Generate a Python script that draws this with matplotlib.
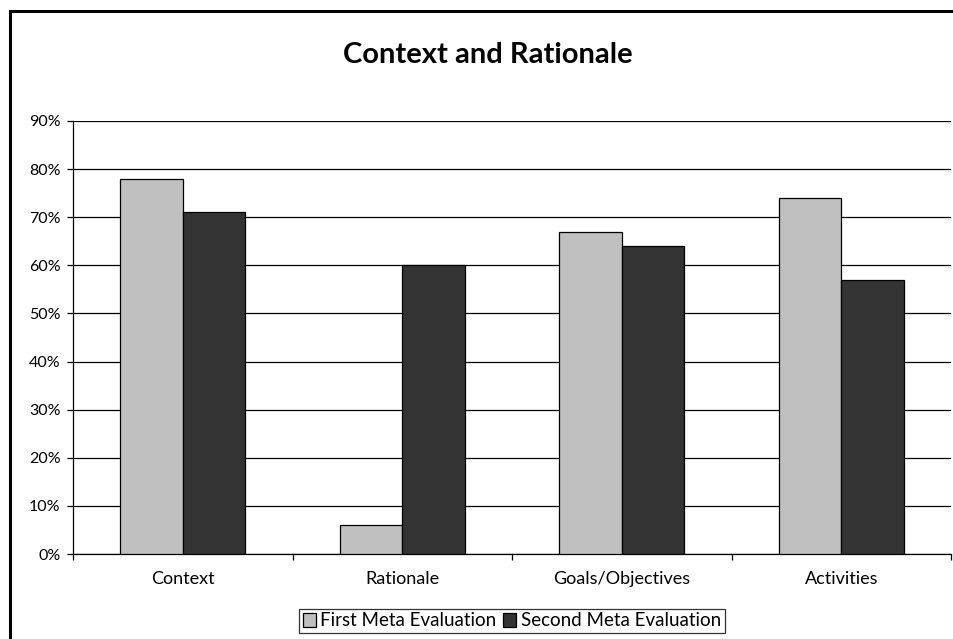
import numpy as np
import matplotlib
matplotlib.use('Agg')
import matplotlib.pyplot as plt
from matplotlib.patches import Rectangle
from matplotlib.ticker import FuncFormatter, FixedLocator

plt.rcParams['font.family'] = ['Lato', 'DejaVu Sans']

# Données
categories = ['Context', 'Rationale', 'Goals/Objectives', 'Activities']
first_meta = [0.78, 0.06, 0.67, 0.74]
second_meta = [0.71, 0.60, 0.64, 0.57]
series_names = ['First Meta Evaluation', 'Second Meta Evaluation']

W, H = 954, 639
fig = plt.figure(figsize=(W / 100, H / 100), dpi=100)

# Cadre extérieur (coupé à droite et en bas)
fig.patches.append(Rectangle((10 / W, -0.05), 1.2, (639 - 11) / H + 0.05,
                             transform=fig.transFigure, fill=False,
                             edgecolor='black', linewidth=2.2, zorder=0))

ax = fig.add_axes([73 / W, (H - 554) / H, (951 - 73) / W, (554 - 121) / H])

x = np.arange(len(categories))
bw = 1 / 3.5  # gap width 150%
ax.bar(x - bw / 2, first_meta, bw, color='#c0c0c0', edgecolor='black',
       linewidth=0.9, label=series_names[0], zorder=3)
ax.bar(x + bw / 2, second_meta, bw, color='#333333', edgecolor='black',
       linewidth=0.9, label=series_names[1], zorder=3)

ax.set_xlim(-0.5, len(categories) - 0.5)
ax.set_ylim(0, 0.9)
ax.set_yticks(np.arange(0, 0.91, 0.1))
ax.yaxis.set_major_formatter(FuncFormatter(lambda v, p: '{:.0f}%'.format(v * 100)))
ax.yaxis.grid(True, color='black', linewidth=0.9, zorder=0)
ax.set_axisbelow(True)

# Ticks aux limites des groupes, labels centrés
ax.xaxis.set_major_locator(FixedLocator(np.arange(-0.5, len(categories), 1.0)))
ax.xaxis.set_major_formatter(FuncFormatter(lambda v, p: ''))
ax.xaxis.set_minor_locator(FixedLocator(x))
ax.set_xticklabels(categories, minor=True)
ax.tick_params(axis='x', which='minor', length=0, pad=12, labelsize=13)
ax.tick_params(axis='x', which='major', length=4, width=0.9, direction='out')
ax.tick_params(axis='y', length=4, width=0.9, pad=5, labelsize=11.5)

for side in ['top', 'right']:
    ax.spines[side].set_visible(False)
ax.spines['left'].set_linewidth(0.9)
ax.spines['bottom'].set_linewidth(0.9)

fig.text(488 / W, 1 - 55 / H, 'Context and Rationale', ha='center',
         va='center', fontsize=21, fontweight='bold')

leg = ax.legend(loc='center', bbox_to_anchor=(512 / W, 1 - 621 / H),
                bbox_transform=fig.transFigure, ncol=2, fontsize=13.5,
                frameon=True, fancybox=False, edgecolor='black',
                handlelength=0.7, handleheight=0.7, handletextpad=0.25,
                columnspacing=0.35, borderpad=0.2, borderaxespad=0)
leg.get_frame().set_linewidth(0.9)

fig.savefig('out.png', dpi=100)
